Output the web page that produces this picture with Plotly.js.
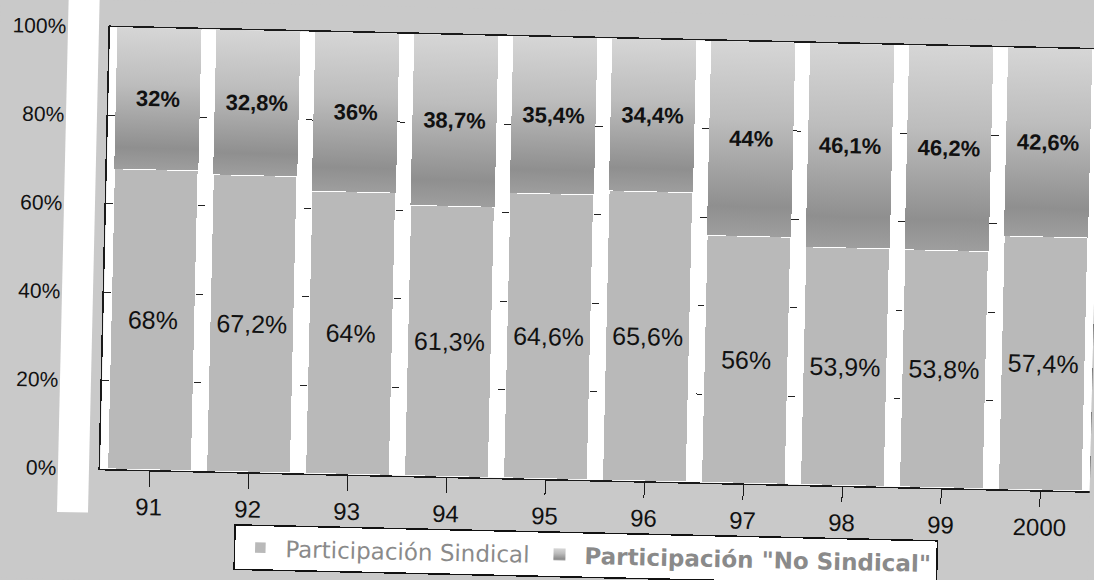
<!DOCTYPE html>
<html>
<head>
<meta charset="utf-8">
<script src="https://cdn.plot.ly/plotly-3.0.1.min.js"></script>
<style>
  html, body { margin: 0; padding: 0; background: #c9c9c9; overflow: hidden; width: 1094px; height: 580px; }
  #chart { width: 1100px; height: 580px; transform: rotate(1.3deg); transform-origin: 110px 27px; }
</style>
</head>
<body>
<div id="chart"></div>
<script>
// ---- data ----
const years = ['91', '92', '93', '94', '95', '96', '97', '98', '99', '2000'];
const sindical = [68, 67.2, 64, 61.3, 64.6, 65.6, 56, 53.9, 53.8, 57.4];
const noSindical = [32, 32.8, 36, 38.7, 35.4, 34.4, 44, 46.1, 46.2, 42.6];
const yTickVals = [0, 20, 40, 60, 80, 100];
const yTickText = ['0%', '20%', '40%', '60%', '80%', '100%'];
const seriesNames = ['Participación Sindical', 'Participación "No Sindical"'];

const fmt = v => String(v).replace('.', ',') + '%';

const traces = [
  {
    type: 'bar', x: years, y: sindical, name: seriesNames[0],
    marker: { color: '#b9b9b9', line: { color: '#ffffff', width: 1.5 } },
    text: sindical.map(fmt), textposition: 'inside', insidetextanchor: 'middle',
    textangle: 0, constraintext: 'none',
    textfont: { family: 'Liberation Sans, Arial, sans-serif', size: 25, color: '#111111' },
    hoverinfo: 'skip'
  },
  {
    type: 'bar', x: years, y: noSindical, name: '<b>' + seriesNames[1] + '</b>',
    marker: { color: '#ababab', line: { width: 0 } },
    text: noSindical.map(fmt), textposition: 'inside', insidetextanchor: 'middle',
    textangle: 0, constraintext: 'none',
    textfont: { family: 'Liberation Sans, Arial, sans-serif', size: 22, color: '#111111', weight: 700 },
    hoverinfo: 'skip'
  }
];

const layout = {
  width: 1100, height: 580,
  margin: { l: 110, r: 0, t: 27, b: 111, pad: 0 },
  paper_bgcolor: '#c9c9c9',
  plot_bgcolor: '#ffffff',
  barmode: 'stack',
  bargap: 0.15,
  font: { family: 'Liberation Sans, Arial, sans-serif', color: '#111111' },
  showlegend: true,
  xaxis: {
    type: 'category',
    showline: true, mirror: true, linecolor: '#1a1a1a', linewidth: 1.5,
    ticks: 'outside', ticklen: 15, tickcolor: '#1a1a1a', tickwidth: 1,
    tickfont: { size: 24, color: '#111111' },
    ticklabelstandoff: 0,
    showgrid: false, zeroline: false
  },
  yaxis: {
    range: [0, 100],
    tickvals: yTickVals, ticktext: yTickText,
    ticks: '',
    tickfont: { size: 21, color: '#111111' },
    ticklabelstandoff: 38,
    showgrid: true, gridcolor: '#222222', griddash: 'dash', gridwidth: 1,
    showline: true, mirror: true, linecolor: '#1a1a1a', linewidth: 1.5,
    zeroline: false
  },
  legend: {
    orientation: 'h',
    x: 0.137, xanchor: 'left',
    y: -0.118, yanchor: 'top',
    bgcolor: '#ffffff', bordercolor: '#111111', borderwidth: 1.5,
    font: { family: 'DejaVu Sans, Verdana, sans-serif', size: 23, color: '#8a8a8a' },
    itemwidth: 40,
    traceorder: 'normal'
  },
  shapes: [
    { type: 'rect', xref: 'paper', yref: 'paper', x0: -0.0424, x1: -0.0111, y0: -0.0995, y1: 1.1,
      fillcolor: '#ffffff', line: { width: 0 }, layer: 'above' }
  ]
};

Plotly.newPlot('chart', traces, layout, { staticPlot: true }).then(gd => {
  const NS = 'http://www.w3.org/2000/svg';
  const svg = gd.querySelector('.main-svg');
  let defs = svg.querySelector('defs');
  if (!defs) { defs = document.createElementNS(NS, 'defs'); svg.insertBefore(defs, svg.firstChild); }
  const lg = document.createElementNS(NS, 'linearGradient');
  lg.setAttribute('id', 'topGrad');
  lg.setAttribute('x1', '0'); lg.setAttribute('y1', '0');
  lg.setAttribute('x2', '0'); lg.setAttribute('y2', '1');
  [[0, '#d6d6d6'], [0.4, '#bdbdbd'], [0.85, '#8f8f8f'], [1, '#9e9e9e']].forEach(([o, c]) => {
    const s = document.createElementNS(NS, 'stop');
    s.setAttribute('offset', o); s.setAttribute('stop-color', c);
    lg.appendChild(s);
  });
  defs.appendChild(lg);
  const barTraces = gd.querySelectorAll('.barlayer .trace');
  if (barTraces[1]) barTraces[1].querySelectorAll('.point path').forEach(p => { p.style.fill = 'url(#topGrad)'; });
  const legTraces = gd.querySelectorAll('.legend .traces');
  if (legTraces[1]) legTraces[1].querySelectorAll('.legendpoints path').forEach(p => { p.style.fill = 'url(#topGrad)'; });
});
</script>
</body>
</html>
